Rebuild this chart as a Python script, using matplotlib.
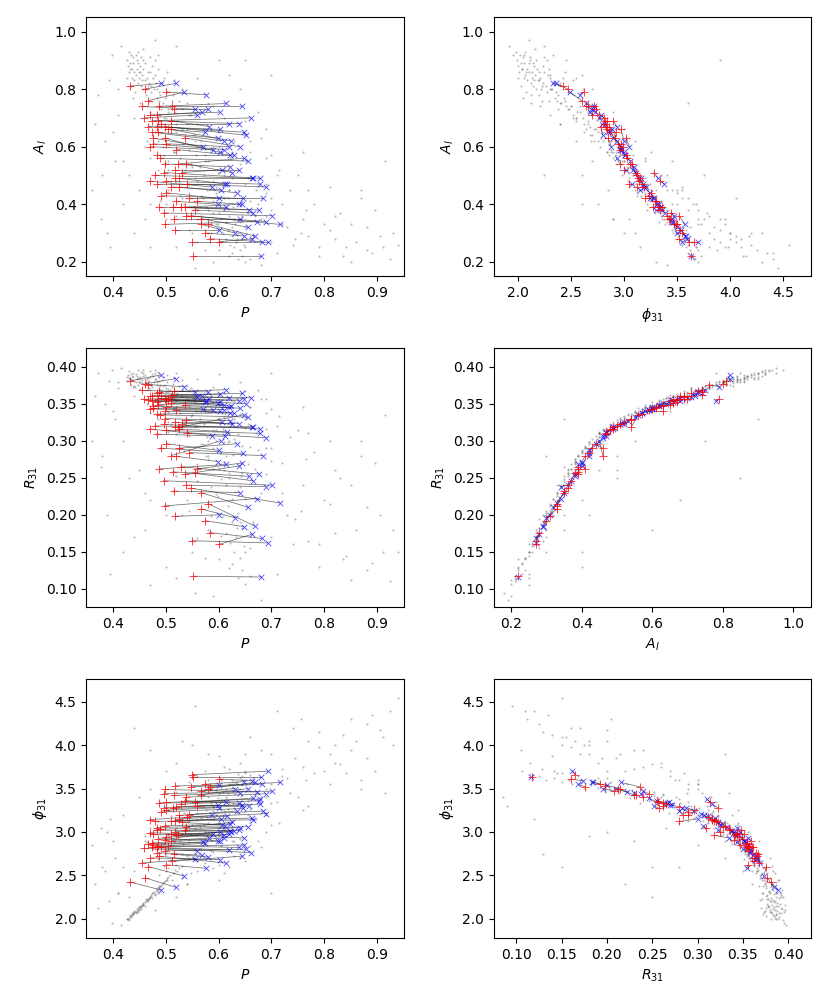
import matplotlib
matplotlib.use("Agg")
import matplotlib.pyplot as plt
from matplotlib.ticker import MultipleLocator
import numpy as np

# background sample: period, amplitude, R31, phi31
cloud_P = [
    0.432, 0.438, 0.441, 0.429, 0.445, 0.450, 0.436, 0.455, 0.447, 0.460,
    0.434, 0.452, 0.463, 0.443, 0.468, 0.458, 0.440, 0.472, 0.448, 0.465,
    0.478, 0.437, 0.484, 0.453, 0.470, 0.490, 0.431, 0.457, 0.475, 0.495,
    0.446, 0.462, 0.481, 0.500, 0.439, 0.467, 0.487, 0.451, 0.505, 0.476,
    0.512, 0.488, 0.530, 0.505, 0.548, 0.497, 0.522, 0.560, 0.511, 0.540,
    0.575, 0.519, 0.552, 0.501, 0.566, 0.533, 0.590, 0.545, 0.515, 0.604,
    0.557, 0.528, 0.580, 0.548, 0.612, 0.565, 0.537, 0.598, 0.572, 0.625,
    0.556, 0.590, 0.543, 0.608, 0.578, 0.636, 0.596, 0.566, 0.617, 0.589,
    0.645, 0.603, 0.576, 0.628, 0.611, 0.655, 0.590, 0.620, 0.604, 0.642,
    0.615, 0.632, 0.598, 0.650, 0.618, 0.637, 0.608, 0.626, 0.644, 0.615,
    0.633, 0.621, 0.648, 0.630, 0.640, 0.626, 0.645, 0.636, 0.650, 0.528,
    0.520, 0.505, 0.485, 0.496, 0.560, 0.585, 0.600, 0.650, 0.622, 0.668,
    0.372, 0.385, 0.360, 0.398, 0.410, 0.378, 0.405, 0.392, 0.415, 0.366,
    0.700, 0.720, 0.745, 0.765, 0.790, 0.810, 0.835, 0.860, 0.880, 0.905,
    0.925, 0.940, 0.710, 0.735, 0.780, 0.820, 0.850, 0.690, 0.755, 0.895,
    0.660, 0.675, 0.640, 0.690, 0.560, 0.600, 0.520, 0.480, 0.580, 0.620,
    0.540, 0.460, 0.650, 0.500, 0.590, 0.440, 0.470, 0.555, 0.610, 0.530,
    0.430, 0.420, 0.680, 0.760, 0.870, 0.630, 0.700, 0.580, 0.395, 0.915,
    0.427, 0.433, 0.444, 0.449, 0.456, 0.461, 0.466, 0.473, 0.479, 0.483,
    0.488, 0.493, 0.498, 0.503, 0.508, 0.513, 0.518, 0.435, 0.442, 0.454,
    0.469, 0.485, 0.430, 0.458, 0.474, 0.491, 0.447, 0.464, 0.480, 0.497,
    0.426, 0.439, 0.452, 0.471, 0.502, 0.515, 0.525, 0.530, 0.457, 0.486,
    0.470, 0.540, 0.610, 0.480, 0.520, 0.585, 0.650, 0.495, 0.555, 0.625,
    0.680, 0.470, 0.515, 0.575, 0.640, 0.700, 0.485, 0.530, 0.560, 0.600,
    0.655, 0.715, 0.505, 0.545, 0.595, 0.630, 0.670, 0.490, 0.535, 0.570,
    0.615, 0.660, 0.700, 0.520, 0.560, 0.600, 0.640, 0.690, 0.545, 0.585,
    0.625, 0.665, 0.605, 0.650, 0.575, 0.620, 0.660, 0.500, 0.545, 0.590,
    0.465, 0.505, 0.600, 0.660, 0.550, 0.690, 0.580, 0.620, 0.510, 0.555,
    0.610, 0.630, 0.675, 0.595, 0.635, 0.530, 0.575, 0.610, 0.645, 0.560,
    0.640, 0.700, 0.760, 0.820, 0.880, 0.600, 0.720, 0.790, 0.850, 0.910,
    0.680, 0.740, 0.800, 0.870, 0.930, 0.620, 0.710, 0.770, 0.830, 0.890,
    0.660, 0.730, 0.690, 0.750, 0.810, 0.840, 0.580, 0.550, 0.520, 0.500,
    0.470, 0.450, 0.420, 0.400, 0.380, 0.440, 0.410, 0.460, 0.390, 0.770,
]
cloud_A = [
    0.89, 0.91, 0.86, 0.88, 0.90, 0.84, 0.87, 0.85, 0.82, 0.83,
    0.92, 0.88, 0.80, 0.85, 0.82, 0.87, 0.83, 0.79, 0.89, 0.84,
    0.80, 0.84, 0.77, 0.81, 0.86, 0.78, 0.86, 0.90, 0.76, 0.75,
    0.87, 0.78, 0.82, 0.74, 0.89, 0.81, 0.79, 0.86, 0.73, 0.84,
    0.76, 0.74, 0.73, 0.72, 0.71, 0.70, 0.69, 0.68, 0.67, 0.66,
    0.66, 0.65, 0.64, 0.63, 0.62, 0.61, 0.60, 0.59, 0.58, 0.58,
    0.57, 0.56, 0.55, 0.54, 0.53, 0.53, 0.52, 0.51, 0.50, 0.49,
    0.49, 0.48, 0.47, 0.46, 0.45, 0.45, 0.44, 0.43, 0.42, 0.41,
    0.41, 0.40, 0.39, 0.39, 0.38, 0.37, 0.37, 0.36, 0.35, 0.35,
    0.34, 0.33, 0.33, 0.32, 0.31, 0.30, 0.30, 0.29, 0.28, 0.28,
    0.27, 0.26, 0.26, 0.25, 0.24, 0.23, 0.22, 0.21, 0.20, 0.43,
    0.48, 0.52, 0.62, 0.57, 0.38, 0.34, 0.65, 0.47, 0.56, 0.36,
    0.78, 0.62, 0.45, 0.92, 0.71, 0.35, 0.55, 0.83, 0.95, 0.68,
    0.42, 0.33, 0.28, 0.38, 0.25, 0.31, 0.22, 0.27, 0.24, 0.29,
    0.21, 0.26, 0.50, 0.45, 0.40, 0.36, 0.33, 0.56, 0.30, 0.38,
    0.62, 0.72, 0.80, 0.66, 0.84, 0.90, 0.95, 0.97, 0.75, 0.85,
    0.68, 0.60, 0.90, 0.40, 0.20, 0.30, 0.25, 0.18, 0.50, 0.42,
    0.50, 0.40, 0.19, 0.58, 0.45, 0.35, 0.85, 0.30, 0.25, 0.55,
    0.90, 0.87, 0.92, 0.86, 0.83, 0.89, 0.86, 0.81, 0.85, 0.80,
    0.76, 0.82, 0.77, 0.79, 0.74, 0.78, 0.72, 0.81, 0.79, 0.91,
    0.76, 0.87, 0.93, 0.80, 0.88, 0.73, 0.93, 0.74, 0.90, 0.84,
    0.84, 0.77, 0.75, 0.91, 0.86, 0.83, 0.76, 0.80, 0.94, 0.92,
    0.72, 0.75, 0.70, 0.65, 0.68, 0.66, 0.69, 0.60, 0.62, 0.58,
    0.63, 0.56, 0.58, 0.55, 0.54, 0.57, 0.52, 0.50, 0.48, 0.51,
    0.49, 0.52, 0.45, 0.44, 0.46, 0.43, 0.45, 0.41, 0.40, 0.42,
    0.39, 0.41, 0.38, 0.36, 0.35, 0.37, 0.34, 0.36, 0.31, 0.30,
    0.32, 0.29, 0.27, 0.25, 0.24, 0.22, 0.21, 0.70, 0.71, 0.74,
    0.62, 0.55, 0.60, 0.58, 0.53, 0.47, 0.38, 0.45, 0.48, 0.64,
    0.52, 0.62, 0.40, 0.33, 0.28, 0.66, 0.57, 0.42, 0.36, 0.27,
    0.30, 0.27, 0.35, 0.28, 0.32, 0.24, 0.40, 0.22, 0.20, 0.25,
    0.35, 0.26, 0.33, 0.42, 0.30, 0.45, 0.23, 0.29, 0.37, 0.23,
    0.28, 0.32, 0.44, 0.50, 0.46, 0.25, 0.35, 0.30, 0.25, 0.35,
    0.40, 0.45, 0.55, 0.65, 0.50, 0.70, 0.80, 0.35, 0.30, 0.45,
]
cloud_R31 = [
    0.384, 0.387, 0.381, 0.389, 0.383, 0.379, 0.386, 0.382, 0.376, 0.384,
    0.390, 0.386, 0.378, 0.380, 0.381, 0.388, 0.374, 0.377, 0.385, 0.383,
    0.379, 0.382, 0.375, 0.378, 0.386, 0.376, 0.385, 0.391, 0.372, 0.374,
    0.388, 0.380, 0.383, 0.371, 0.392, 0.377, 0.381, 0.384, 0.370, 0.387,
    0.373, 0.370, 0.369, 0.366, 0.371, 0.362, 0.365, 0.360, 0.363, 0.357,
    0.361, 0.354, 0.358, 0.352, 0.355, 0.349, 0.352, 0.346, 0.343, 0.348,
    0.340, 0.337, 0.339, 0.333, 0.336, 0.330, 0.327, 0.329, 0.322, 0.325,
    0.318, 0.314, 0.311, 0.316, 0.305, 0.309, 0.300, 0.296, 0.298, 0.290,
    0.293, 0.284, 0.279, 0.281, 0.272, 0.268, 0.262, 0.256, 0.248, 0.252,
    0.240, 0.231, 0.226, 0.222, 0.212, 0.203, 0.198, 0.190, 0.182, 0.176,
    0.170, 0.162, 0.158, 0.150, 0.142, 0.133, 0.125, 0.115, 0.106, 0.290,
    0.309, 0.326, 0.351, 0.338, 0.268, 0.237, 0.362, 0.317, 0.344, 0.262,
    0.392, 0.350, 0.300, 0.395, 0.371, 0.265, 0.330, 0.381, 0.398, 0.360,
    0.290, 0.230, 0.195, 0.275, 0.160, 0.215, 0.140, 0.180, 0.125, 0.200,
    0.110, 0.150, 0.320, 0.305, 0.285, 0.260, 0.240, 0.338, 0.205, 0.270,
    0.345, 0.368, 0.380, 0.356, 0.383, 0.390, 0.392, 0.396, 0.300, 0.250,
    0.220, 0.180, 0.330, 0.130, 0.090, 0.170, 0.105, 0.095, 0.260, 0.200,
    0.250, 0.150, 0.085, 0.345, 0.300, 0.330, 0.392, 0.280, 0.120, 0.335,
    0.386, 0.383, 0.390, 0.380, 0.378, 0.389, 0.385, 0.376, 0.384, 0.379,
    0.372, 0.382, 0.375, 0.380, 0.369, 0.377, 0.367, 0.375, 0.373, 0.393,
    0.371, 0.388, 0.394, 0.377, 0.390, 0.368, 0.395, 0.369, 0.392, 0.386,
    0.381, 0.372, 0.370, 0.394, 0.389, 0.385, 0.374, 0.382, 0.396, 0.393,
    0.369, 0.374, 0.364, 0.355, 0.362, 0.360, 0.367, 0.348, 0.352, 0.345,
    0.356, 0.338, 0.344, 0.340, 0.336, 0.343, 0.330, 0.328, 0.320, 0.331,
    0.322, 0.333, 0.312, 0.306, 0.315, 0.302, 0.310, 0.290, 0.286, 0.296,
    0.280, 0.292, 0.273, 0.252, 0.246, 0.262, 0.238, 0.255, 0.205, 0.198,
    0.222, 0.190, 0.172, 0.150, 0.142, 0.128, 0.118, 0.366, 0.368, 0.372,
    0.350, 0.339, 0.349, 0.346, 0.335, 0.316, 0.276, 0.311, 0.322, 0.358,
    0.332, 0.354, 0.288, 0.228, 0.182, 0.360, 0.343, 0.298, 0.256, 0.168,
    0.190, 0.170, 0.240, 0.175, 0.210, 0.140, 0.270, 0.130, 0.112, 0.150,
    0.230, 0.160, 0.220, 0.280, 0.180, 0.300, 0.120, 0.165, 0.250, 0.135,
    0.155, 0.200, 0.290, 0.315, 0.300, 0.145, 0.180, 0.150, 0.115, 0.200,
    0.220, 0.260, 0.300, 0.340, 0.280, 0.360, 0.380, 0.230, 0.200, 0.310,
]
cloud_phi31 = [
    2.03, 2.05, 2.08, 2.00, 2.11, 2.13, 2.04, 2.16, 2.12, 2.19,
    2.02, 2.15, 2.22, 2.07, 2.24, 2.18, 2.09, 2.27, 2.10, 2.21,
    2.31, 2.06, 2.35, 2.14, 2.25, 2.38, 2.01, 2.17, 2.29, 2.41,
    2.09, 2.20, 2.33, 2.45, 2.06, 2.23, 2.36, 2.13, 2.48, 2.30,
    2.44, 2.50, 2.47, 2.58, 2.52, 2.61, 2.55, 2.66, 2.68, 2.72,
    2.64, 2.75, 2.70, 2.78, 2.80, 2.86, 2.77, 2.88, 2.92, 2.84,
    2.96, 2.90, 3.00, 2.97, 3.03, 3.06, 3.01, 3.10, 3.08, 3.13,
    3.05, 3.15, 3.11, 3.19, 3.17, 3.22, 3.20, 3.16, 3.26, 3.24,
    3.30, 3.28, 3.25, 3.33, 3.31, 3.36, 3.29, 3.35, 3.38, 3.41,
    3.40, 3.44, 3.39, 3.47, 3.45, 3.49, 3.46, 3.51, 3.54, 3.50,
    3.56, 3.55, 3.60, 3.58, 3.62, 3.60, 3.65, 3.67, 3.70, 3.12,
    3.04, 2.96, 2.69, 2.86, 3.22, 3.33, 2.62, 3.24, 3.02, 3.42,
    2.12, 2.55, 2.85, 1.95, 2.30, 3.05, 2.70, 2.20, 1.92, 2.40,
    3.55, 3.72, 3.85, 3.60, 3.98, 3.90, 4.12, 4.05, 4.25, 4.18,
    4.40, 4.55, 3.35, 3.45, 3.68, 3.80, 3.95, 3.20, 4.30, 3.70,
    3.10, 2.90, 2.70, 3.00, 2.55, 2.45, 2.25, 2.10, 3.60, 2.60,
    2.40, 2.95, 3.90, 2.75, 3.30, 4.20, 3.95, 4.45, 3.75, 4.05,
    2.25, 2.60, 3.40, 3.25, 3.50, 2.90, 2.30, 3.10, 3.15, 3.45,
    1.99, 2.04, 2.06, 2.10, 2.15, 2.14, 2.20, 2.26, 2.28, 2.32,
    2.37, 2.40, 2.43, 2.47, 2.50, 2.53, 2.56, 2.03, 2.08, 2.11,
    2.23, 2.29, 1.98, 2.17, 2.24, 2.38, 2.07, 2.21, 2.27, 2.42,
    2.00, 2.05, 2.12, 2.25, 2.44, 2.52, 2.58, 2.61, 2.16, 2.33,
    2.66, 2.40, 2.52, 2.80, 2.62, 2.78, 2.66, 2.93, 2.75, 2.90,
    2.82, 3.05, 2.88, 3.00, 2.92, 3.08, 3.12, 2.98, 3.14, 3.05,
    3.20, 3.10, 3.25, 3.12, 3.20, 3.27, 3.15, 3.35, 3.22, 3.30,
    3.38, 3.26, 3.33, 3.46, 3.36, 3.44, 3.50, 3.40, 3.58, 3.50,
    3.55, 3.62, 3.60, 3.68, 3.70, 3.72, 3.66, 2.55, 2.70, 2.58,
    2.88, 2.98, 2.96, 2.84, 3.08, 3.22, 3.40, 3.10, 3.18, 2.68,
    3.02, 2.72, 3.45, 3.48, 3.57, 2.74, 2.92, 3.24, 3.36, 3.64,
    3.80, 3.90, 3.75, 4.00, 3.85, 3.88, 3.65, 4.15, 4.30, 4.10,
    3.95, 4.20, 3.70, 3.60, 4.00, 3.55, 4.40, 4.05, 3.78, 4.35,
    4.10, 3.62, 3.50, 3.40, 3.55, 3.68, 3.90, 4.00, 3.80, 3.70,
    3.50, 3.40, 3.20, 2.90, 2.60, 2.55, 2.30, 2.90, 3.00, 3.30,
]

# matched pairs: red = first epoch, blue = second epoch
red_P = [
    0.433, 0.461, 0.501, 0.467, 0.488, 0.512, 0.516, 0.471, 0.484, 0.459,
    0.474, 0.486, 0.511, 0.467, 0.483, 0.498, 0.511, 0.474, 0.486, 0.476,
    0.498, 0.476, 0.501, 0.536, 0.483, 0.498, 0.523, 0.539, 0.517, 0.480,
    0.497, 0.501, 0.517, 0.526, 0.483, 0.511, 0.526, 0.501, 0.545, 0.560,
    0.488, 0.513, 0.529, 0.536, 0.496, 0.539, 0.548, 0.567, 0.498, 0.567,
    0.518, 0.580, 0.583, 0.550, 0.601, 0.552, 0.455, 0.492, 0.505, 0.470,
    0.520, 0.490, 0.530, 0.470, 0.540, 0.492, 0.520, 0.555, 0.515, 0.575,
]
red_A = [
    0.81, 0.80, 0.79, 0.76, 0.74, 0.74, 0.73, 0.71, 0.71, 0.70,
    0.69, 0.69, 0.69, 0.67, 0.67, 0.67, 0.66, 0.65, 0.65, 0.63,
    0.63, 0.61, 0.61, 0.63, 0.57, 0.54, 0.54, 0.54, 0.52, 0.50,
    0.51, 0.48, 0.49, 0.49, 0.47, 0.46, 0.46, 0.44, 0.42, 0.41,
    0.39, 0.39, 0.39, 0.39, 0.37, 0.36, 0.36, 0.35, 0.33, 0.33,
    0.31, 0.33, 0.28, 0.27, 0.27, 0.22, 0.74, 0.68, 0.66, 0.60,
    0.59, 0.56, 0.51, 0.48, 0.47, 0.43, 0.41, 0.38, 0.35, 0.30,
]
red_R31 = [
    0.381, 0.377, 0.356, 0.376, 0.366, 0.362, 0.367, 0.360, 0.364, 0.356,
    0.361, 0.357, 0.359, 0.355, 0.353, 0.356, 0.351, 0.354, 0.349, 0.347,
    0.340, 0.344, 0.346, 0.348, 0.336, 0.330, 0.318, 0.328, 0.325, 0.320,
    0.322, 0.314, 0.318, 0.316, 0.309, 0.280, 0.290, 0.296, 0.284, 0.262,
    0.262, 0.258, 0.265, 0.255, 0.246, 0.240, 0.236, 0.230, 0.212, 0.208,
    0.198, 0.215, 0.176, 0.165, 0.160, 0.117, 0.368, 0.360, 0.355, 0.343,
    0.341, 0.335, 0.323, 0.316, 0.311, 0.290, 0.279, 0.256, 0.232, 0.192,
]
red_phi31 = [
    2.42, 2.47, 2.62, 2.60, 2.72, 2.66, 2.74, 2.70, 2.76, 2.81,
    2.82, 2.84, 2.90, 2.86, 2.83, 2.78, 2.97, 2.87, 2.92, 2.85,
    2.91, 2.97, 2.94, 3.02, 3.02, 3.07, 2.96, 3.06, 3.00, 3.12,
    3.28, 3.34, 3.13, 3.15, 3.05, 3.12, 3.19, 3.25, 3.20, 3.30,
    3.33, 3.27, 3.32, 3.36, 3.44, 3.40, 3.52, 3.43, 3.49, 3.47,
    3.53, 3.50, 3.52, 3.66, 3.61, 3.63, 2.64, 2.82, 2.84, 2.99,
    2.96, 3.03, 3.11, 3.14, 3.17, 3.23, 3.29, 3.34, 3.42, 3.55,
]
blue_P = [
    0.491, 0.519, 0.576, 0.535, 0.614, 0.645, 0.580, 0.602, 0.568, 0.559,
    0.661, 0.639, 0.582, 0.602, 0.649, 0.652, 0.623, 0.610, 0.598, 0.570,
    0.602, 0.610, 0.620, 0.640, 0.622, 0.622, 0.648, 0.626, 0.638, 0.666,
    0.679, 0.679, 0.663, 0.616, 0.613, 0.604, 0.634, 0.600, 0.684, 0.645,
    0.614, 0.657, 0.676, 0.639, 0.701, 0.689, 0.716, 0.656, 0.673, 0.631,
    0.601, 0.668, 0.682, 0.693, 0.664, 0.681, 0.556, 0.620, 0.575, 0.590,
    0.630, 0.655, 0.607, 0.588, 0.690, 0.646, 0.598, 0.665, 0.640, 0.648,
]
blue_A = [
    0.82, 0.82, 0.78, 0.79, 0.75, 0.74, 0.73, 0.72, 0.72, 0.71,
    0.70, 0.68, 0.67, 0.66, 0.65, 0.64, 0.62, 0.62, 0.63, 0.60,
    0.58, 0.59, 0.60, 0.60, 0.57, 0.53, 0.56, 0.51, 0.52, 0.49,
    0.49, 0.47, 0.49, 0.47, 0.47, 0.45, 0.44, 0.42, 0.42, 0.40,
    0.39, 0.38, 0.38, 0.40, 0.36, 0.34, 0.33, 0.32, 0.34, 0.30,
    0.31, 0.29, 0.27, 0.27, 0.28, 0.22, 0.73, 0.68, 0.65, 0.59,
    0.57, 0.55, 0.52, 0.46, 0.46, 0.42, 0.40, 0.37, 0.35, 0.29,
]
blue_R31 = [
    0.389, 0.384, 0.354, 0.373, 0.369, 0.364, 0.366, 0.363, 0.361, 0.359,
    0.358, 0.354, 0.356, 0.352, 0.357, 0.350, 0.347, 0.349, 0.351, 0.343,
    0.340, 0.342, 0.345, 0.344, 0.338, 0.327, 0.335, 0.322, 0.323, 0.318,
    0.316, 0.310, 0.319, 0.312, 0.306, 0.300, 0.296, 0.287, 0.280, 0.270,
    0.268, 0.252, 0.255, 0.266, 0.240, 0.238, 0.216, 0.210, 0.222, 0.196,
    0.200, 0.185, 0.168, 0.162, 0.174, 0.116, 0.366, 0.358, 0.353, 0.341,
    0.337, 0.332, 0.325, 0.307, 0.304, 0.283, 0.272, 0.246, 0.230, 0.184,
]
blue_phi31 = [
    2.33, 2.36, 2.58, 2.49, 2.64, 2.72, 2.71, 2.68, 2.73, 2.78,
    2.76, 2.82, 2.93, 2.89, 2.85, 2.80, 3.00, 2.93, 2.90, 2.88,
    3.00, 2.96, 2.97, 3.05, 3.01, 3.09, 2.93, 3.11, 3.02, 3.14,
    3.32, 3.38, 3.16, 3.18, 3.07, 3.15, 3.24, 3.28, 3.24, 3.31,
    3.35, 3.30, 3.36, 3.33, 3.47, 3.44, 3.57, 3.50, 3.46, 3.50,
    3.54, 3.57, 3.55, 3.70, 3.59, 3.63, 2.69, 2.79, 2.87, 2.97,
    3.01, 3.06, 3.08, 3.19, 3.21, 3.27, 3.31, 3.39, 3.45, 3.58,
]

cloud = {"P": cloud_P, "A": cloud_A, "R31": cloud_R31, "phi31": cloud_phi31}
red = {"P": red_P, "A": red_A, "R31": red_R31, "phi31": red_phi31}
blue = {"P": blue_P, "A": blue_A, "R31": blue_R31, "phi31": blue_phi31}

labels = {"P": "$P$", "A": "$A_l$", "R31": "$R_{31}$", "phi31": r"$\phi_{31}$"}
limits = {"P": (0.35, 0.95), "A": (0.15, 1.05), "R31": (0.075, 0.425), "phi31": (1.77, 4.76)}

panels = [("P", "A"), ("phi31", "A"),
          ("P", "R31"), ("A", "R31"),
          ("P", "phi31"), ("R31", "phi31")]

fig, axes = plt.subplots(3, 2, figsize=(8.3, 10.08), dpi=100)
fig.subplots_adjust(left=0.104, right=0.977, top=0.983, bottom=0.069,
                    wspace=0.283, hspace=0.278)

for ax, (kx, ky) in zip(axes.flat, panels):
    ax.scatter(cloud[kx], cloud[ky], s=2.2, c="0.45", alpha=0.5, lw=0, zorder=1)
    xs = np.vstack([red[kx], blue[kx]])
    ys = np.vstack([red[ky], blue[ky]])
    ax.plot(xs, ys, color="k", lw=0.55, alpha=0.55, zorder=2)
    ax.scatter(blue[kx], blue[ky], marker="x", c="blue", s=16, lw=0.6, alpha=0.7, zorder=3)
    ax.scatter(red[kx], red[ky], marker="+", c="red", s=30, lw=0.7, alpha=0.75, zorder=4)
    ax.set_xlim(limits[kx])
    ax.set_ylim(limits[ky])
    ax.set_xlabel(labels[kx])
    ax.set_ylabel(labels[ky])
    if kx == "A":
        ax.xaxis.set_major_locator(MultipleLocator(0.2))
    if ky == "A":
        ax.yaxis.set_major_locator(MultipleLocator(0.2))

fig.savefig("out.png", dpi=100)
